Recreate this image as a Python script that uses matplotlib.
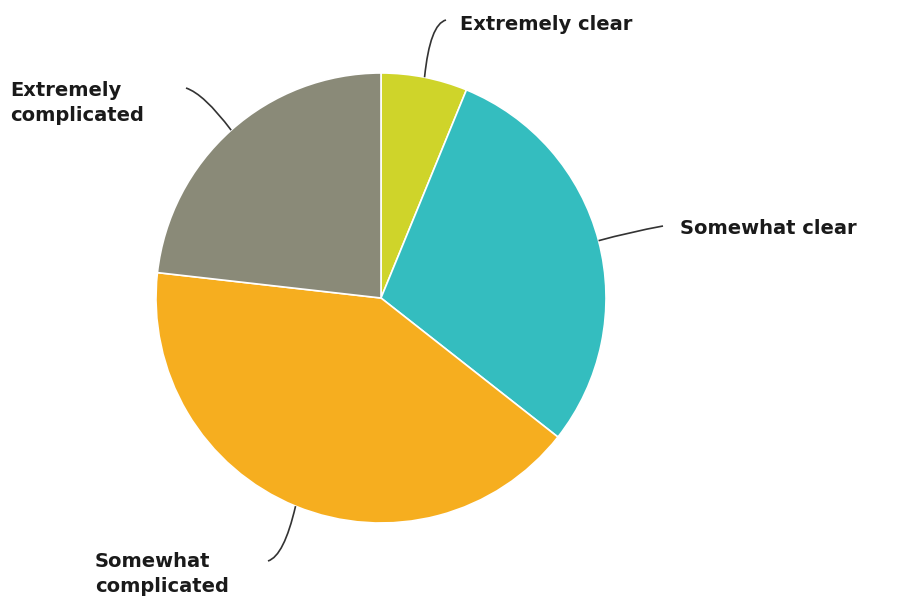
import numpy as np
import matplotlib
matplotlib.use("Agg")
import matplotlib.pyplot as plt
from matplotlib.path import Path
from matplotlib.patches import PathPatch

labels = ["Extremely clear", "Somewhat clear", "Somewhat complicated", "Extremely complicated"]
shares = [6.2, 29.4, 41.2, 23.2]
colors = ["#cfd42a", "#34bdbf", "#f6ae1f", "#8a8a78"]

W, H = 902, 603
fig = plt.figure(figsize=(W / 100, H / 100), dpi=100)
ax = fig.add_axes([0, 0, 1, 1])
ax.axis("off")

cx, cy, r = 381, H - 298, 225
wedges, _ = ax.pie(shares, colors=colors, startangle=90, counterclock=False,
                   center=(cx, cy), radius=r,
                   wedgeprops=dict(edgecolor="white", linewidth=1.2))
ax.set_xlim(0, W)
ax.set_ylim(0, H)
ax.set_aspect("equal")

# leader line: (control point, end point) and label anchor, in pixel coords from top
leaders = [
    ((430, 24), (446, 20), (460, 24)),
    ((630, 232), (663, 226), (680, 228)),
    ((284, 556), (268, 561), (95, 574)),
    ((204, 94), (186, 88), (10, 103)),
]

for w, lab, (ctrl, end, txt) in zip(wedges, labels, leaders):
    mid = np.deg2rad((w.theta1 + w.theta2) / 2)
    start = (cx + r * np.cos(mid), cy + r * np.sin(mid))
    verts = [start, (ctrl[0], H - ctrl[1]), (end[0], H - end[1])]
    path = Path(verts, [Path.MOVETO, Path.CURVE3, Path.CURVE3])
    ax.add_patch(PathPatch(path, facecolor="none", edgecolor="#333333", lw=1.2))
    text = lab.replace("Extremely complicated", "Extremely\ncomplicated") \
              .replace("Somewhat complicated", "Somewhat\ncomplicated")
    ax.text(txt[0], H - txt[1], text, ha="left", va="center",
            fontsize=14, fontweight="bold", family="DejaVu Sans",
            color="#1a1a1a", linespacing=1.35)

fig.savefig("out.png", dpi=100, facecolor="white")
